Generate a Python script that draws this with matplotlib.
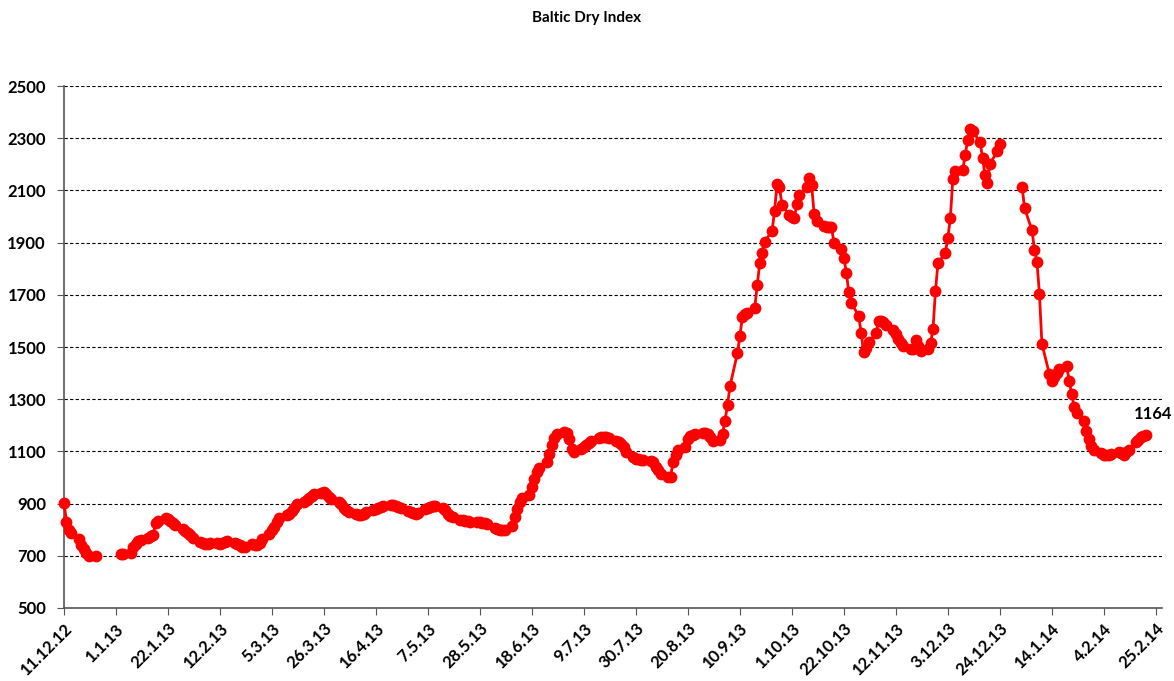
import numpy as np
import pandas as pd
import matplotlib
matplotlib.use('Agg')
import matplotlib.pyplot as plt

plt.rcParams['font.family'] = ['Lato', 'DejaVu Sans']

nan = np.nan

# BDI closes, one row per week (Mon..Fri); first row starts Tue 11.12.12
# nan = no quote over the Christmas break
dec_2012 = [
    904, 831, 799, 786,
    766, 741, 725, 712, 699,
    700, nan, nan, nan, nan,
    nan, nan, nan, 705, 706,
]
jan_mar_2013 = [
    711, 735, 745, 757, 762,
    770, 774, 779, 826, 835,
    843, 842, 832, 824, 817,
    803, 796, 788, 778, 768,
    752, 748, 745, 746, 750,
    748, 747, 749, 752, 755,
    750, 745, 740, 735, 734,
    744, 743, 741, 750, 765,
    785, 798, 812, 828, 845,
    855, 862, 872, 885, 897,
    905, 915, 922, 930, 938,
    940, 944, 935, 925, 918,
]
apr_jun_2013 = [
    906, 900, 885, 874, 866,
    860, 856, 857, 862, 868,
    875, 880, 884, 888, 892,
    893, 894, 890, 887, 882,
    870, 866, 864, 862, 865,
    878, 882, 887, 891, 892,
    882, 875, 862, 852, 847,
    838, 836, 834, 832, 830,
    829, 828, 826, 824, 820,
    806, 803, 800, 798, 798,
    815, 849, 881, 906, 920,
    932, 964, 996, 1020, 1035,
    1059, 1091, 1123, 1150, 1168,
]
jul_sep_2013 = [
    1174, 1170, 1149, 1110, 1097,
    1108, 1115, 1125, 1134, 1140,
    1152, 1155, 1156, 1155, 1153,
    1140, 1135, 1128, 1118, 1098,
    1078, 1072, 1070, 1068, 1066,
    1062, 1059, 1040, 1027, 1012,
    1002, 1003, 1059, 1085, 1104,
    1117, 1149, 1158, 1163, 1168,
    1170, 1172, 1165, 1155, 1138,
    1142, 1168, 1218, 1278, 1350,
    1476, 1541, 1615, 1625, 1632,
    1651, 1737, 1820, 1862, 1904,
    1944, 2021, 2125, 2114, 2043,
]
oct_dec_2013 = [
    2005, 1998, 1995, 2047, 2081,
    2113, 2146, 2119, 2008, 1983,
    1962, 1960, 1958, 1960, 1900,
    1875, 1842, 1785, 1709, 1668,
    1620, 1552, 1481, 1495, 1518,
    1552, 1600, 1600, 1594, 1585,
    1565, 1550, 1531, 1515, 1505,
    1494, 1491, 1527, 1505, 1485,
    1492, 1514, 1569, 1715, 1820,
    1862, 1919, 1993, 2142, 2174,
    2178, 2234, 2295, 2337, 2327,
    2286, 2225, 2158, 2129, 2202,
    2250, 2277, nan, nan, nan,
]
jan_feb_2014 = [
    nan, nan, nan, 2113, 2031,
    1947, 1872, 1826, 1703, 1512,
    1397, 1371, 1385, 1400, 1416,
    1429, 1371, 1320, 1272, 1246,
    1218, 1180, 1148, 1120, 1104,
    1093, 1087, 1085, 1088, 1091,
    1097, 1093, 1085, 1098, 1106,
    1136, 1145, 1155, 1160, 1164,
]

values = np.array(dec_2012 + jan_mar_2013 + apr_jun_2013 + jul_sep_2013
                  + oct_dec_2013 + jan_feb_2014, dtype=float)
dates = pd.bdate_range('2012-12-11', '2014-02-21')
assert len(dates) == len(values)

tick_dates = pd.date_range('2012-12-11', '2014-02-25', freq='21D')
tick_labels = [f"{d.day}.{d.month}.{d:%y}" for d in tick_dates]
y_ticks = list(range(500, 2501, 200))

fig = plt.figure(figsize=(11.74, 6.81), dpi=100)
ax = fig.add_axes([64 / 1174, 73 / 681, 1098 / 1174, 522 / 681])

ax.plot(dates, values, color='#ff0000', lw=2, marker='o', ms=8.5,
        markeredgewidth=0, zorder=3, clip_on=False)

last = values[~np.isnan(values)][-1]
ax.annotate(f"{last:.0f}", (dates[-1], last), xytext=(-9, 9),
            textcoords='offset points', ha='left', va='bottom',
            fontsize=12, fontweight='bold')

ax.set_ylim(500, 2500)
ax.set_yticks(y_ticks)
ax.set_xlim(pd.Timestamp('2012-12-11'), pd.Timestamp('2014-02-27 12:00'))
ax.set_xticks(tick_dates)
ax.set_xticklabels(tick_labels, rotation=45, ha='right', rotation_mode='anchor')

for lab in ax.get_xticklabels() + ax.get_yticklabels():
    lab.set_fontweight('bold')
    lab.set_fontsize(12)

ax.grid(axis='y', color='black', linestyle=(0, (3, 2)), lw=0.8)
ax.set_axisbelow(True)
for s in ['top', 'right']:
    ax.spines[s].set_visible(False)
for s in ['left', 'bottom']:
    ax.spines[s].set_color('#555555')
    ax.spines[s].set_linewidth(1.2)
ax.tick_params(axis='both', direction='out', length=5, color='#555555')
ax.tick_params(axis='y', pad=8)
ax.tick_params(axis='x', pad=4)

fig.text(0.5, 1 - 18 / 681, 'Baltic Dry Index', ha='center', va='center',
         fontsize=11, fontweight='bold')

fig.savefig('out.png', dpi=100)
